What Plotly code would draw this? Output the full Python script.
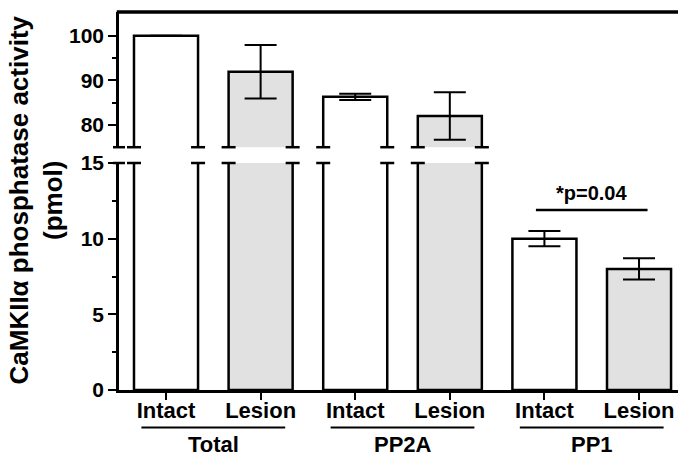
import plotly.graph_objects as go

groups = ["Total", "PP2A", "PP1"]
conditions = ["Intact", "Lesion"]
values = [100.0, 91.9, 86.3, 82.0, 10.0, 8.0]
errors = [None, 6.0, 0.7, 5.3, 0.5, 0.7]
fills = ["white", "#e1e1e1", "white", "#e1e1e1", "white", "#e1e1e1"]

low_range = [0, 15]
high_range = [75, 105.3]
sig_text = "*p=0.04"
sig_y = 11.9
sig_text_y = 13.0

positions = list(range(len(values)))
tick_text = [c for g in groups for c in conditions]
bar_w = 0.677

FONT = "Liberation Sans, Arial, sans-serif"

def errs_in(rng):
    return [e if (e is not None and rng[0] < v < rng[1]) else None for v, e in zip(values, errors)]

fig = go.Figure()
common = dict(x=positions, y=values, width=bar_w, base=0,
              marker=dict(color=fills, line=dict(color="black", width=2.5)),
              showlegend=False, hoverinfo="skip")
fig.add_trace(go.Bar(**common, xaxis="x", yaxis="y",
                     error_y=dict(type="data", array=errs_in(low_range), visible=True,
                                  color="black", thickness=2, width=16)))
fig.add_trace(go.Bar(**common, xaxis="x", yaxis="y2",
                     error_y=dict(type="data", array=errs_in(high_range), visible=True,
                                  color="black", thickness=2, width=16)))

W, H = 678, 457
ml, mr, mt, mb = 119, 0, 7, 67
ph = H - mt - mb
low_top_px = 160
high_bot_px = 144
low_dom = [0, (H - mb - low_top_px) / ph]
high_dom = [(H - mb - high_bot_px) / ph, 1]

axis_font = dict(family=FONT, size=21, color="black", weight="bold")

fig.update_layout(
    width=W, height=H, margin=dict(l=ml, r=mr, t=mt, b=mb),
    paper_bgcolor="white", plot_bgcolor="white", barmode="overlay",
    xaxis=dict(range=[-0.497, 5.412], tickvals=positions, ticktext=tick_text,
               showline=True, linecolor="black", linewidth=2.5, ticks="outside",
               ticklen=7, tickwidth=2, tickcolor="black", showgrid=False, zeroline=False,
               tickfont=dict(family=FONT, size=22, color="black", weight="bold"),
               ticklabelstandoff=-8, anchor="y"),
    yaxis=dict(domain=low_dom, range=low_range, tickvals=[0, 5, 10, 15],
               showline=True, linecolor="black", linewidth=2.5, ticks="outside",
               ticklen=8, tickwidth=2, tickcolor="black", showgrid=False, zeroline=False,
               tickfont=axis_font, anchor="x",
               minor=dict(tickvals=[2.5, 7.5, 12.5], ticks="outside", ticklen=4,
                          tickwidth=2, tickcolor="black", showgrid=False)),
    yaxis2=dict(domain=high_dom, range=high_range, tickvals=[80, 90, 100],
                showline=True, linecolor="black", linewidth=2.5, ticks="outside",
                ticklen=8, tickwidth=2, tickcolor="black", showgrid=False, zeroline=False,
                tickfont=axis_font, anchor="x",
                minor=dict(tickvals=[85, 95], ticks="outside", ticklen=4,
                           tickwidth=2, tickcolor="black", showgrid=False)),
)

shapes = []
serif = 0.074
# break serifs on bars crossing the break
for p, v in zip(positions, values):
    if v > high_range[0]:
        for edge in (p - bar_w / 2, p + bar_w / 2):
            shapes.append(dict(type="line", xref="x", yref="y2 domain",
                               x0=edge - serif, x1=edge + serif, y0=0, y1=0,
                               line=dict(color="black", width=2.5)))
            shapes.append(dict(type="line", xref="x", yref="y domain",
                               x0=edge - serif, x1=edge + serif, y0=1, y1=1,
                               line=dict(color="black", width=2.5)))
# y axis serifs
ys = 6 / (W - ml - mr)
shapes.append(dict(type="line", xref="paper", yref="y2 domain", x0=-ys, x1=ys, y0=0, y1=0,
                   line=dict(color="black", width=2.5)))
shapes.append(dict(type="line", xref="paper", yref="y domain", x0=-ys, x1=ys, y0=1, y1=1,
                   line=dict(color="black", width=2.5)))
# top frame line
shapes.append(dict(type="line", xref="paper", yref="paper", x0=-0.004, x1=1, y0=1, y1=1,
                   line=dict(color="black", width=3.5)))
# significance line
shapes.append(dict(type="line", xref="x", yref="y", x0=3.91, x1=5.09, y0=sig_y, y1=sig_y,
                   line=dict(color="black", width=2.5)))
# group underlines
ul_y = -(428 - (H - mb)) / ph
for gi, g in enumerate(groups):
    c = gi * 2 + 0.5
    shapes.append(dict(type="line", xref="x", yref="paper", x0=c - 0.76, x1=c + 0.76,
                       y0=ul_y, y1=ul_y, line=dict(color="black", width=2)))
fig.update_layout(shapes=shapes)

annotations = []
gl_y = -(445 - (H - mb)) / ph
for gi, g in enumerate(groups):
    annotations.append(dict(text=g, x=gi * 2 + 0.5, y=gl_y, xref="x", yref="paper",
                            showarrow=False, xanchor="center", yanchor="middle",
                            font=dict(family=FONT, size=22, color="black", weight="bold")))
annotations.append(dict(text=sig_text, x=4.5, y=sig_text_y, xref="x", yref="y",
                        showarrow=False, xanchor="center", yanchor="middle",
                        font=dict(family=FONT, size=20, color="black", weight="bold")))
annotations.append(dict(text="CaMKIIα phosphatase activity<br>(pmol)",
                        x=-(119 - 36) / (W - ml - mr), y=(H - mb - 198) / ph,
                        xref="paper", yref="paper", textangle=-90, showarrow=False,
                        xanchor="center", yanchor="middle",
                        font=dict(family=FONT, size=26, color="black", weight="bold")))
fig.update_layout(annotations=annotations)

fig.write_html("out.html", config={"displayModeBar": False},
               post_script="document.body.style.margin='0';document.body.style.overflow='hidden';")
